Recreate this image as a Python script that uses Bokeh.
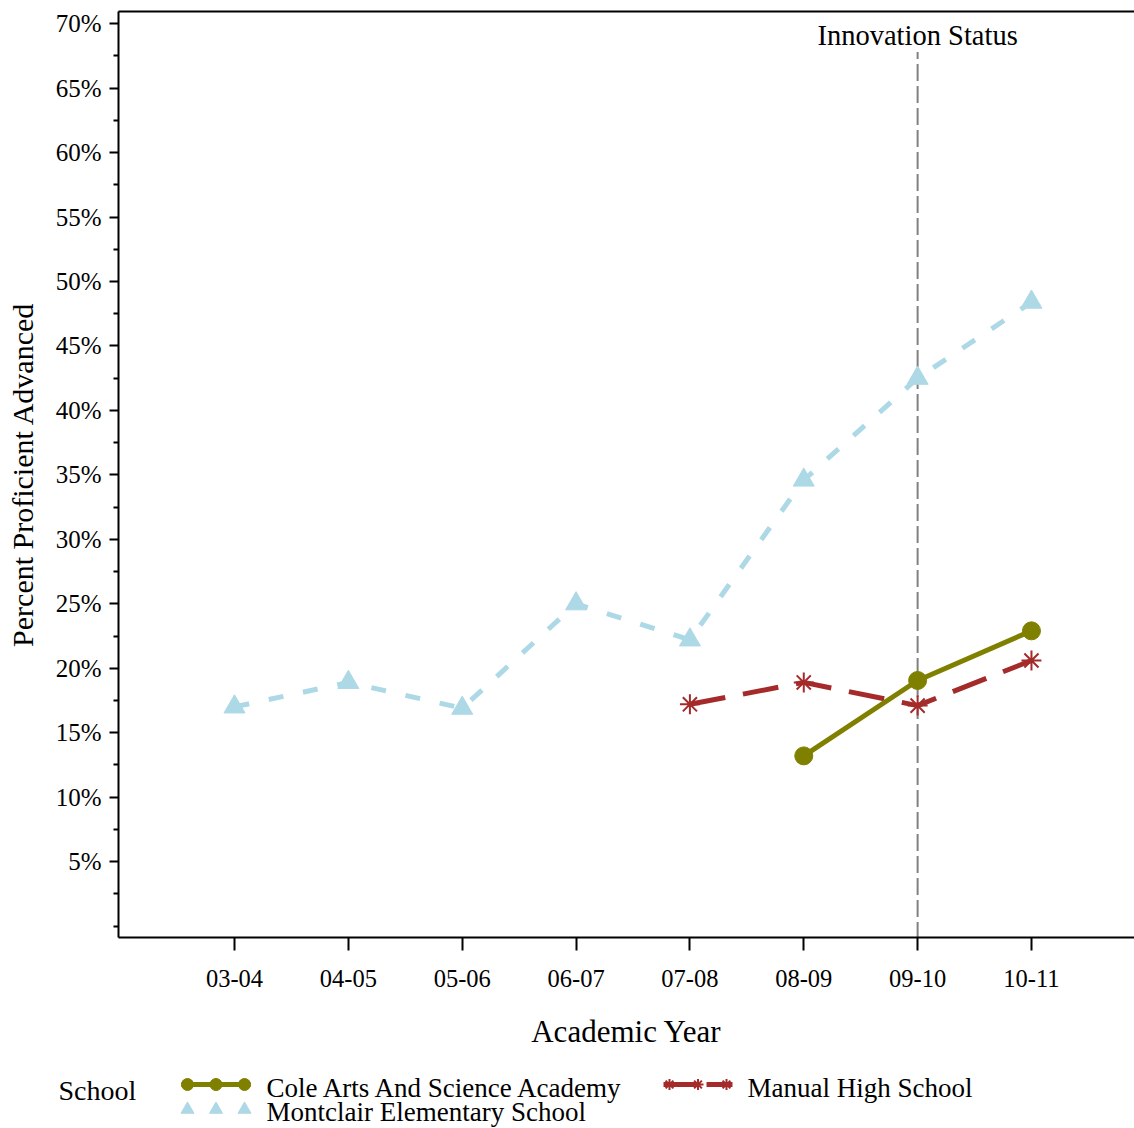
from bokeh.plotting import figure
from bokeh.layouts import column
from bokeh.models import Range1d, FixedTicker, PrintfTickFormatter, LinearAxis, Label
from bokeh.core.properties import value
from bokeh.embed import file_html
from bokeh.resources import INLINE

# ---------------- data ----------------
years = ["03-04", "04-05", "05-06", "06-07", "07-08", "08-09", "09-10", "10-11"]
montclair_years = ["03-04", "04-05", "05-06", "06-07", "07-08", "08-09", "09-10", "10-11"]
montclair = [17.0, 18.9, 16.9, 25.0, 22.2, 34.6, 42.5, 48.4]
manual_years = ["07-08", "08-09", "09-10", "10-11"]
manual = [17.2, 18.9, 17.1, 20.6]
cole_years = ["08-09", "09-10", "10-11"]
cole = [13.2, 19.05, 22.9]
y_ticks = [5, 10, 15, 20, 25, 30, 35, 40, 45, 50, 55, 60, 65, 70]
y_minor_ticks = [0, 2.5, 7.5, 12.5, 17.5, 22.5, 27.5, 32.5, 37.5, 42.5, 47.5, 52.5,
                 57.5, 62.5, 67.5]
innovation_year = "09-10"
innovation_label = "Innovation Status"
legend_title = "School"
legend_names = ["Cole Arts And Science Academy", "Manual High School",
                "Montclair Elementary School"]

FONT = "Liberation Serif"
OLIVE = "#808000"
BROWN = "#A52A2A"
LBLUE = "#ADD8E6"

W = 1134
H_MAIN = 1058
H_LEG = 70


def pos(labels):
    return [years.index(l) + 1 for l in labels]


# ---------------- main chart ----------------
p = figure(width=W, height=H_MAIN, output_backend="svg", toolbar_location=None,
           x_range=Range1d(-0.019, 8.905), y_range=Range1d(-0.89, 70.95),
           min_border_left=118, min_border_right=0, min_border_top=11,
           min_border_bottom=121)
p.outline_line_color = None
p.grid.visible = False

ya = p.left[0]
xa = p.below[0]

top = LinearAxis(ticker=FixedTicker(ticks=[]), axis_line_width=2, axis_line_color="black",
                 major_tick_out=0, major_tick_in=0, minor_tick_out=0, minor_tick_in=0,
                 major_label_standoff=0, axis_label_standoff=0,
                 major_label_text_font_size="0px")
p.add_layout(top, "above")

ya.ticker = FixedTicker(ticks=y_ticks, minor_ticks=y_minor_ticks)
ya.formatter = PrintfTickFormatter(format="%d%%")
ya.axis_line_width = 2
ya.major_tick_line_width = 2
ya.minor_tick_line_width = 2
ya.major_tick_out = 9
ya.major_tick_in = 0
ya.minor_tick_out = 5
ya.minor_tick_in = 0
ya.major_label_standoff = 8
ya.major_label_text_font = FONT
ya.major_label_text_font_size = "25px"
ya.major_label_text_color = "black"
ya.axis_label = "Percent Proficient Advanced"
ya.axis_label_text_font = FONT
ya.axis_label_text_font_size = "30px"
ya.axis_label_text_font_style = "normal"
ya.axis_label_text_color = "black"
ya.axis_label_standoff = 14

xa.ticker = FixedTicker(ticks=list(range(1, len(years) + 1)), minor_ticks=[])
xa.major_label_overrides = {i + 1: y for i, y in enumerate(years)}
xa.axis_line_width = 2
xa.major_tick_line_width = 2
xa.major_tick_out = 13
xa.major_tick_in = 0
xa.minor_tick_out = 0
xa.minor_tick_in = 0
xa.major_label_standoff = 19
xa.major_label_text_font = FONT
xa.major_label_text_font_size = "24.5px"
xa.major_label_text_color = "black"
xa.axis_label = "Academic Year"
xa.axis_label_text_font = FONT
xa.axis_label_text_font_size = "31px"
xa.axis_label_text_font_style = "normal"
xa.axis_label_text_color = "black"
xa.axis_label_standoff = 24

ix = pos([innovation_year])[0]
p.line([ix, ix], [-1, 67.8], line_color="#808080", line_width=2, line_dash="17 5")
p.add_layout(Label(x=ix, y=69.1, text=innovation_label, text_align="center",
                   text_baseline="middle", text_font=FONT, text_font_size="28.5px",
                   text_color="black"))

p.line(pos(montclair_years), montclair, line_color=LBLUE, line_width=5, line_dash="15 20")
p.scatter(pos(montclair_years), montclair, marker="triangle", size=21,
          fill_color=LBLUE, line_color=LBLUE)

p.line(pos(manual_years), manual, line_color=BROWN, line_width=5, line_dash="36 18")
p.scatter(pos(manual_years), manual, marker="asterisk", size=20,
          line_color=BROWN, line_width=2)

p.line(pos(cole_years), cole, line_color=OLIVE, line_width=5)
p.scatter(pos(cole_years), cole, marker="circle", size=18, fill_color=OLIVE,
          line_color=OLIVE)

# ---------------- legend strip (pixel coordinates) ----------------
lg = figure(width=W, height=H_LEG, output_backend="svg", toolbar_location=None,
            x_range=Range1d(0, W), y_range=Range1d(0, H_LEG),
            x_axis_type=None, y_axis_type=None, min_border=0)
lg.outline_line_color = None
lg.grid.visible = False
for fig in (p, lg):
    try:
        fig.frame_align = False
    except Exception:
        pass

lg.text(x=[58], y=[38], text=[legend_title], text_font=value(FONT),
        text_font_size="28px", text_baseline="middle", text_color="black")

# (swatch left x, swatch y, label x, label y) for each legend entry
slots = [(187, 44, 266, 41), (669, 44, 747, 41), (187, 19, 266, 17)]
specs = [dict(color=OLIVE, marker="circle", dash="solid", size=12, line=True),
         dict(color=BROWN, marker="asterisk", dash="35 8", size=11, line=True),
         dict(color=LBLUE, marker="triangle", dash="solid", size=13, line=False)]
SW = 57
for name, (sx, sy, tx, ty), sp in zip(legend_names, slots, specs):
    xs = [sx, sx + SW / 2, sx + SW]
    if sp["line"]:
        lg.line([sx - 6, sx + SW + 6], [sy, sy], line_color=sp["color"], line_width=5,
                line_dash=sp["dash"])
    if sp["marker"] == "asterisk":
        lg.scatter(xs, [sy] * 3, marker="asterisk", size=sp["size"],
                   line_color=sp["color"], line_width=2)
    else:
        lg.scatter(xs, [sy] * 3, marker=sp["marker"], size=sp["size"],
                   fill_color=sp["color"], line_color=sp["color"])
    lg.text(x=[tx], y=[ty], text=[name], text_font=value(FONT), text_font_size="27px",
            text_baseline="middle", text_color="black")

layout = column(p, lg, spacing=0)
open("out.html", "w").write(file_html(layout, INLINE))
